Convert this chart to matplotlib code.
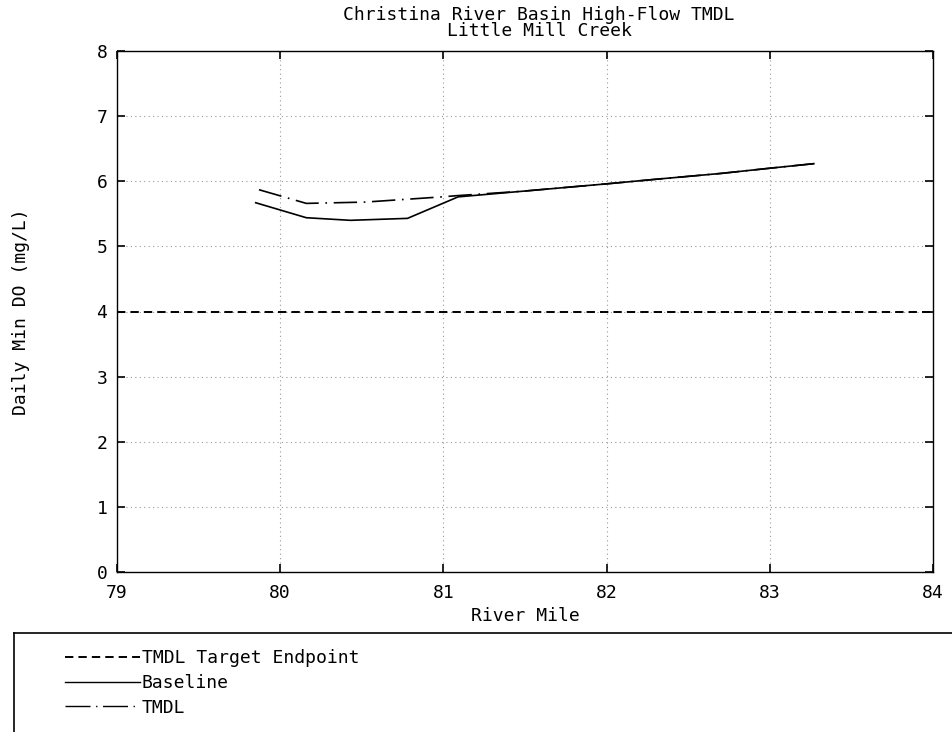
import matplotlib
matplotlib.use("Agg")
import matplotlib.pyplot as plt
from matplotlib.lines import Line2D

# Data
baseline_mile = [79.85, 80.16, 80.43, 80.78, 81.09, 81.5, 82.0, 82.3, 82.7, 83.0, 83.27]
baseline_do = [5.67, 5.44, 5.40, 5.43, 5.76, 5.85, 5.96, 6.03, 6.12, 6.20, 6.27]
tmdl_mile = [79.87, 80.16, 80.52, 80.99, 81.09, 81.5, 82.0, 82.3, 82.7, 83.0, 83.27]
tmdl_do = [5.87, 5.66, 5.68, 5.76, 5.78, 5.85, 5.96, 6.03, 6.12, 6.20, 6.27]
target = 4.0
xticks = [79, 80, 81, 82, 83, 84]
yticks = [0, 1, 2, 3, 4, 5, 6, 7, 8]

FONT = "DejaVu Sans Mono"
FS = 13
W, H = 953, 732
fig = plt.figure(figsize=(W / 100, H / 100), dpi=100)

L, R, T, B = 117, 933, 51, 572
ax = fig.add_axes([L / W, 1 - B / H, (R - L) / W, (B - T) / H])
ax.plot(baseline_mile, baseline_do, color="black", lw=1.2, ls="-")
ax.plot(tmdl_mile, tmdl_do, color="black", lw=1.2, ls=(0, (14, 4, 1, 4)))
ax.axhline(target, color="black", lw=1.4, ls=(0, (4.3, 2.6)))
ax.set_xlim(79, 84)
ax.set_ylim(0, 8)
ax.set_xticks(xticks)
ax.set_yticks(yticks)
ax.grid(True, ls=(0, (1, 3)), color="#999999", lw=0.8)
ax.tick_params(direction="in", top=True, right=True, length=6, width=1.2,
               labelsize=FS)
ax.tick_params(axis="x", pad=9)
ax.tick_params(axis="y", pad=7)
for lab in ax.get_xticklabels() + ax.get_yticklabels():
    lab.set_family(FONT)
for s in ax.spines.values():
    s.set_linewidth(1.0)
ax.set_xlabel("River Mile", fontsize=FS, family=FONT, labelpad=3)
ax.set_ylabel("Daily Min DO (mg/L)", fontsize=FS, family=FONT, labelpad=48)
fig.text(539 / W, 1 - 6 / H,
         "Christina River Basin High-Flow TMDL\nLittle Mill Creek",
         ha="center", va="top", fontsize=FS, family=FONT, linespacing=0.88)

# Legend panel
lax = fig.add_axes([14 / W, -0.1, 1.0, (732 - 633) / H + 0.1])
lax.set_xticks([])
lax.set_yticks([])
lax.patch.set_alpha(0)
for k in ["right", "bottom"]:
    lax.spines[k].set_visible(False)
for k in ["left", "top"]:
    lax.spines[k].set_linewidth(1.2)
handles = [
    Line2D([], [], color="black", lw=1.4, ls=(0, (4.3, 2.6))),
    Line2D([], [], color="black", lw=1.0, ls="-"),
    Line2D([], [], color="black", lw=1.0, ls=(0, (18, 4, 1, 4))),
]
labels = ["TMDL Target Endpoint", "Baseline", "TMDL"]
fig.legend(handles, labels, loc="upper left",
           bbox_to_anchor=(65 / W, 1 - 649 / H), frameon=False,
           prop={"family": FONT, "size": FS}, handlelength=4.15,
           handletextpad=0.1, labelspacing=0.38, borderpad=0, borderaxespad=0)

fig.savefig("out.png", dpi=100)
